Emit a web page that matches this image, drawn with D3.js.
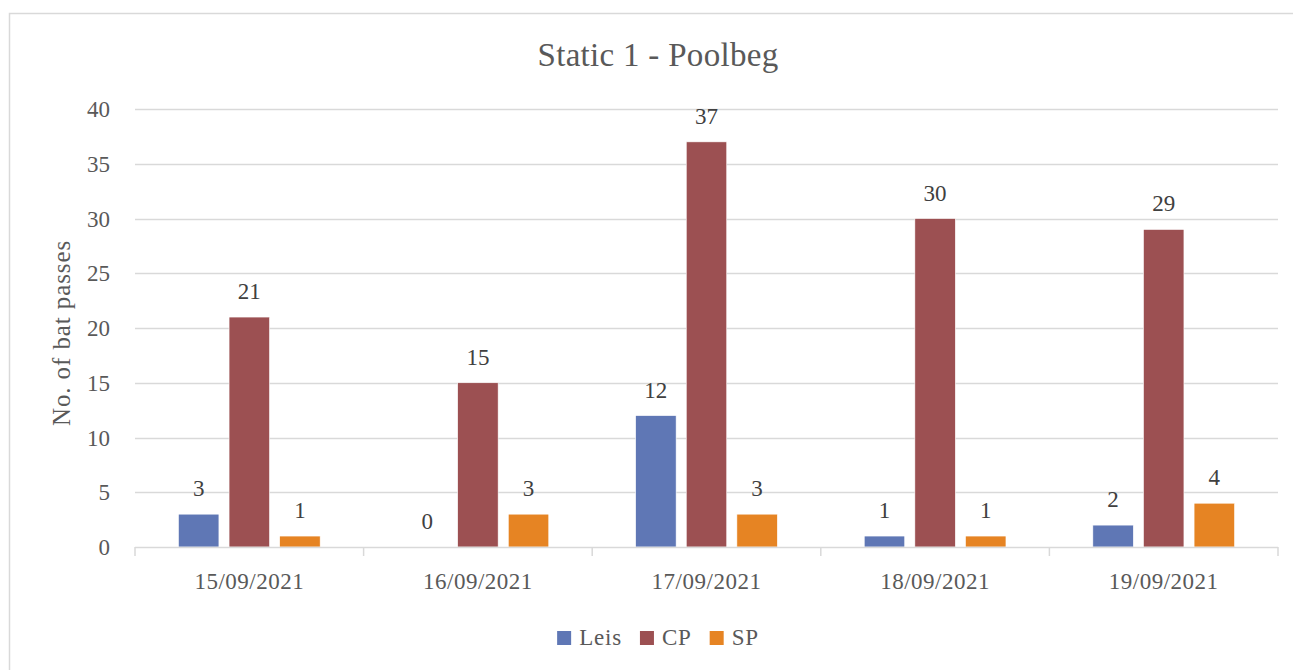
<!DOCTYPE html>
<html>
<head>
<meta charset="utf-8">
<script src="https://cdn.jsdelivr.net/npm/d3@7"></script>
<style>
  html, body { margin: 0; padding: 0; background: #fff; }
  text { font-family: "Liberation Serif", "DejaVu Serif", serif; }
</style>
</head>
<body>
<svg id="chart" width="1293" height="670"></svg>
<script>
const categories = ["15/09/2021", "16/09/2021", "17/09/2021", "18/09/2021", "19/09/2021"];
const seriesNames = ["Leis", "CP", "SP"];
const leisValues = [3, 0, 12, 1, 2];
const cpValues = [21, 15, 37, 30, 29];
const spValues = [1, 3, 3, 1, 4];
const yTicks = [0, 5, 10, 15, 20, 25, 30, 35, 40];
const colors = ["#5f77b5", "#9c5052", "#e68423"];
const title = "Static 1 - Poolbeg";
const yLabel = "No. of bat passes";

const seriesValues = [leisValues, cpValues, spValues];

const svg = d3.select("#chart");
const margin = { left: 135, right: 1278, top: 109, bottom: 547 };
const centerX = 658;

// outer border
svg.append("rect")
  .attr("x", 9.5).attr("y", 13.5)
  .attr("width", 1300).attr("height", 700)
  .attr("fill", "#fff").attr("stroke", "#d9d9d9").attr("stroke-width", 1.5);

const x0 = d3.scaleBand().domain(categories).range([margin.left, margin.right]).padding(0);
const bw = x0.bandwidth();
const x1 = d3.scaleBand().domain(seriesNames).range([bw * 0.19, bw * 0.81]).paddingInner(0.2);
const y = d3.scaleLinear().domain([0, 40]).range([margin.bottom, margin.top]);

// gridlines
svg.append("g").selectAll("line").data(yTicks.filter(d => d > 0)).join("line")
  .attr("x1", margin.left).attr("x2", margin.right)
  .attr("y1", d => Math.round(y(d)) + 0.5).attr("y2", d => Math.round(y(d)) + 0.5)
  .attr("stroke", "#d9d9d9").attr("stroke-width", 1.5);

// y tick labels
svg.append("g").selectAll("text").data(yTicks).join("text")
  .attr("x", 110).attr("y", d => y(d) + 8)
  .attr("text-anchor", "end")
  .attr("font-size", 23).attr("fill", "#595959")
  .text(d => d);

// bars
const groups = svg.append("g").selectAll("g").data(categories).join("g")
  .attr("transform", d => `translate(${x0(d)},0)`);

groups.selectAll("rect").data((d, i) => seriesNames.map((s, j) => ({ s, v: seriesValues[j][i], j })))
  .join("rect")
  .attr("x", d => x1(d.s))
  .attr("width", x1.bandwidth())
  .attr("y", d => y(d.v))
  .attr("height", d => y(0) - y(d.v))
  .attr("fill", d => colors[d.j])
  .attr("stroke", "#ffffff").attr("stroke-width", 0.6);

groups.selectAll("text").data((d, i) => seriesNames.map((s, j) => ({ s, v: seriesValues[j][i], j })))
  .join("text")
  .attr("x", d => x1(d.s) + x1.bandwidth() / 2)
  .attr("y", d => y(d.v) - 18)
  .attr("text-anchor", "middle")
  .attr("font-size", 23).attr("fill", "#404040")
  .text(d => d.v);

// x axis line + ticks
const axisG = svg.append("g");
axisG.append("line")
  .attr("x1", margin.left).attr("x2", margin.right)
  .attr("y1", y(0) + 0.5).attr("y2", y(0) + 0.5)
  .attr("stroke", "#d9d9d9").attr("stroke-width", 1.5);
const boundaries = categories.map(c => x0(c)).concat([x0(categories[categories.length - 1]) + bw]);
axisG.selectAll("line.tick").data(boundaries).join("line")
  .attr("class", "tick")
  .attr("x1", d => d).attr("x2", d => d)
  .attr("y1", y(0)).attr("y2", y(0) + 9)
  .attr("stroke", "#d9d9d9").attr("stroke-width", 1.5);
axisG.selectAll("text").data(categories).join("text")
  .attr("x", d => x0(d) + bw / 2)
  .attr("y", 589)
  .attr("text-anchor", "middle")
  .attr("font-size", 23).attr("fill", "#595959")
  .attr("letter-spacing", 0.5)
  .text(d => d);

// title
svg.append("text")
  .attr("x", centerX).attr("y", 66)
  .attr("text-anchor", "middle")
  .attr("font-size", 33).attr("fill", "#595959")
  .attr("letter-spacing", 0.3)
  .text(title);

// y label
svg.append("text")
  .attr("transform", "translate(70,333) rotate(-90)")
  .attr("text-anchor", "middle")
  .attr("font-size", 25).attr("fill", "#595959")
  .attr("letter-spacing", 0.9)
  .text(yLabel);

// legend
const legend = svg.append("g");
const items = legend.selectAll("g").data(seriesNames).join("g");
items.append("rect").attr("width", 14).attr("height", 14).attr("y", 631)
  .attr("fill", (d, i) => colors[i]);
items.append("text").attr("x", 22).attr("y", 645)
  .attr("font-size", 23).attr("fill", "#595959")
  .attr("letter-spacing", 0.8)
  .text(d => d);
let widths = [];
items.each(function () { widths.push(22 + d3.select(this).select("text").node().getComputedTextLength()); });
const gap = 18;
const total = d3.sum(widths) + gap * (widths.length - 1);
let cx = centerX - total / 2;
items.attr("transform", (d, i) => { const t = `translate(${cx},0)`; cx += widths[i] + gap; return t; });
</script>
</body>
</html>
